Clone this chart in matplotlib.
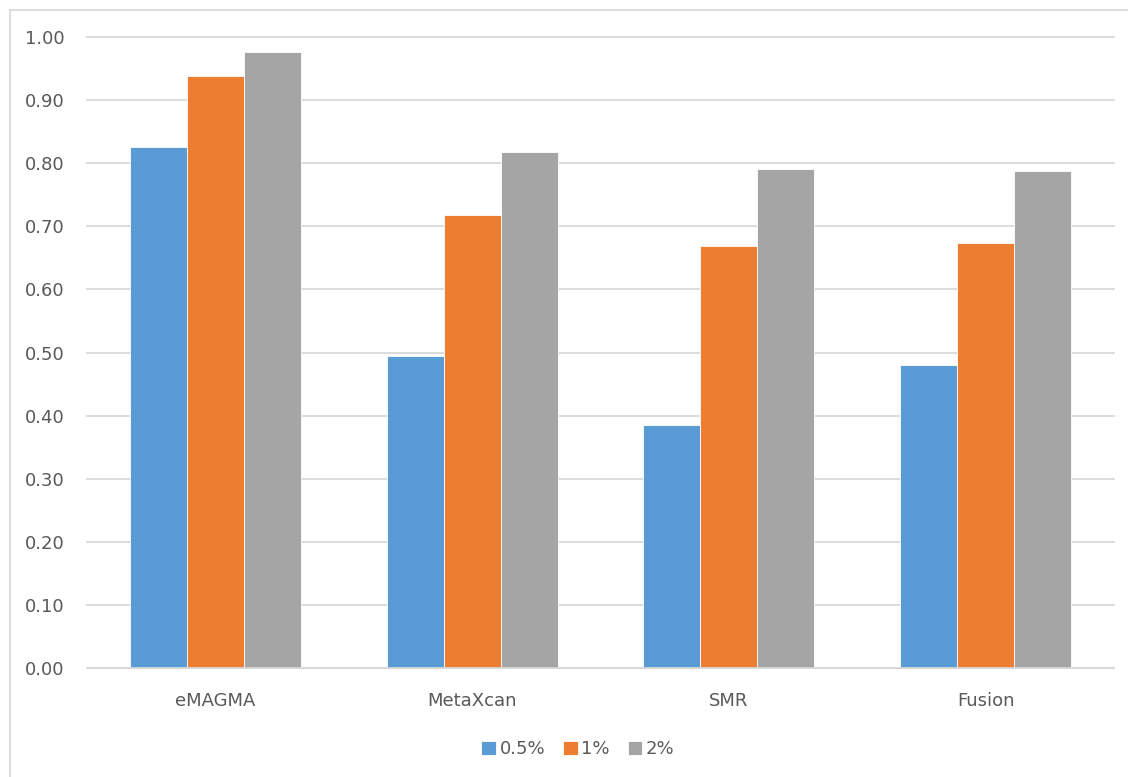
import matplotlib.pyplot as plt
import numpy as np
from matplotlib.lines import Line2D

# Bar values per method and threshold
methods = ["eMAGMA", "MetaXcan", "SMR", "Fusion"]
thresholds = ["0.5%", "1%", "2%"]
vals_05 = [0.825, 0.495, 0.386, 0.480]
vals_1 = [0.938, 0.718, 0.668, 0.673]
vals_2 = [0.976, 0.817, 0.790, 0.787]
colors = ["#5B9BD5", "#ED7D31", "#A5A5A5"]
yticks = [0.0, 0.1, 0.2, 0.3, 0.4, 0.5, 0.6, 0.7, 0.8, 0.9, 1.0]

plt.rcParams['font.family'] = ['DejaVu Sans']
text_color = "#595959"
grid_color = "#D9D9D9"

fig = plt.figure(figsize=(11.28, 7.77), dpi=100)
W, H = 1128, 777
ax = fig.add_axes([87 / W, 1 - 668.3 / H, (1114 - 87) / W, (668.3 - 36.7) / H])

x = np.arange(len(methods))
width = 0.222
for i, (vals, label) in enumerate(zip([vals_05, vals_1, vals_2], thresholds)):
    ax.bar(x + (i - 1) * width, vals, width, color=colors[i], label=label,
           edgecolor="white", linewidth=0.6, zorder=3)

ax.set_xlim(-0.5, len(methods) - 0.5)
ax.set_ylim(0, 1.0)
ax.set_yticks(yticks)
ax.set_yticklabels([f"{v:.2f}" for v in yticks])
ax.set_xticks(x)
ax.set_xticklabels(methods)
ax.tick_params(axis="y", length=0, pad=16, labelsize=13, labelcolor=text_color)
ax.tick_params(axis="x", length=0, pad=17, labelsize=13, labelcolor=text_color)
ax.grid(axis="y", color=grid_color, linewidth=1.3, zorder=0)
for gl in ax.get_ygridlines():
    gl.set_clip_on(False)
for side in ["top", "right", "left"]:
    ax.spines[side].set_visible(False)
ax.spines["bottom"].set_color(grid_color)
ax.spines["bottom"].set_linewidth(1.3)
ax.spines["bottom"].set_zorder(4)

# chart-area frame (top and left edges)
fig.add_artist(Line2D([10 / W, 1], [1 - 10 / H, 1 - 10 / H], color=grid_color, lw=1.3))
fig.add_artist(Line2D([10 / W, 10 / W], [0, 1 - 10 / H], color=grid_color, lw=1.3))

leg = fig.legend(loc="center", bbox_to_anchor=(578 / W, 1 - 749 / H), ncol=3,
                 frameon=False, fontsize=13, handlelength=0.8, handleheight=0.8,
                 handletextpad=0.2, columnspacing=1.0)
for t in leg.get_texts():
    t.set_color(text_color)

fig.savefig("out.png", dpi=100)
